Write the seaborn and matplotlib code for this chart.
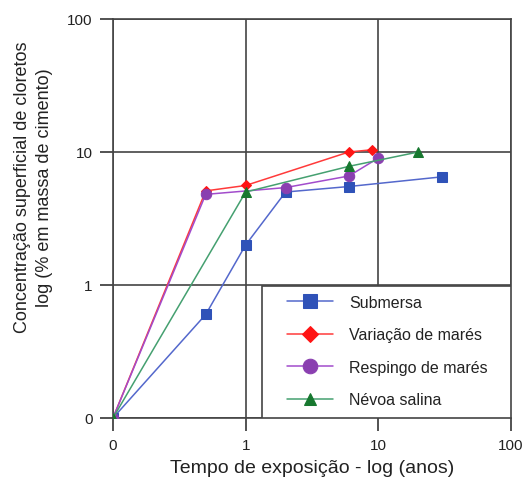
import matplotlib
matplotlib.use("Agg")
import matplotlib.pyplot as plt
import seaborn as sns
import pandas as pd
from matplotlib.patches import Rectangle
from matplotlib.ticker import NullLocator, FixedLocator, FixedFormatter

# ---- data (the axis origin labelled "0" is drawn at 0.1 on the log scales) ----
sub_x = [0.1, 0.5, 1, 2, 6, 30]
sub_y = [0.1, 0.6, 2.0, 5.0, 5.5, 6.5]

var_x = [0.1, 0.5, 1, 6, 9]
var_y = [0.1, 5.1, 5.6, 10.0, 10.4]

res_x = [0.1, 0.5, 2, 6, 10]
res_y = [0.1, 4.8, 5.4, 6.6, 9.0]

nev_x = [0.1, 1, 6, 20]
nev_y = [0.1, 5.0, 7.8, 10.0]

tick_vals = [0.1, 1, 10, 100]
tick_labels = ["0", "1", "10", "100"]

labels = ["Submersa", "Variação de marés", "Respingo de marés", "Névoa salina"]

edge = "#444444"
sns.set_style("white")
plt.rcParams['font.family'] = ['Liberation Sans', 'DejaVu Sans']
plt.rcParams.update({
    "xtick.bottom": True, "ytick.left": True,
    "xtick.top": False, "ytick.right": False,
    "xtick.major.size": 9.5, "ytick.major.size": 9.5,
    "xtick.major.width": 1.3, "ytick.major.width": 1.3,
    "xtick.color": edge, "ytick.color": edge,
    "xtick.direction": "out", "ytick.direction": "out",
})

fig = plt.figure(figsize=(5.26, 4.85), dpi=100)
ax = fig.add_axes([0.2148, 0.1361, 0.9715 - 0.2148, 0.9588 - 0.1361])

series = [
    (sub_x, sub_y, labels[0], "#5468cc", "#2f52b8", "s", 7),
    (var_x, var_y, labels[1], "#ff3a3a", "#ff1414", "D", 5.5),
    (res_x, res_y, labels[2], "#a24ccc", "#8a3fb0", "o", 7.5),
    (nev_x, nev_y, labels[3], "#45a070", "#17782f", "^", 6.5),
]

for xs, ys, lab, lc, mc, mk, ms in series:
    df = pd.DataFrame({"x": xs, "y": ys})
    sns.lineplot(data=df, x="x", y="y", ax=ax, color=lc, linewidth=1.1,
                 marker=mk, markersize=ms, markerfacecolor=mc,
                 markeredgecolor=mc, sort=False, errorbar=None, label=lab,
                 zorder=3)

ax.set_xscale("log")
ax.set_yscale("log")
ax.set_xlim(0.1, 100)
ax.set_ylim(0.1, 100)
for axis in (ax.xaxis, ax.yaxis):
    axis.set_major_locator(FixedLocator(tick_vals))
    axis.set_major_formatter(FixedFormatter(tick_labels))
    axis.set_minor_locator(NullLocator())

ax.grid(True, which="major", color=edge, linewidth=1.2)
for sp in ax.spines.values():
    sp.set_color(edge)
    sp.set_linewidth(1.2)
    sp.set_visible(True)

ax.tick_params(axis="both", which="major", direction="out", length=9.5,
               width=1.3, color=edge, labelsize=11, labelcolor="#222222",
               bottom=True, left=True, top=False, right=False)
ax.tick_params(axis="x", pad=5)
ax.tick_params(axis="y", pad=5)

ax.set_xlabel("Tempo de exposição - log (anos)", fontsize=14, color="#222222",
              labelpad=5)
ax.set_ylabel("Concentração superficial de cloretos\nlog (% em massa de cimento)",
              fontsize=13, color="#222222", linespacing=1.4)
ax.yaxis.set_label_coords(-0.15, 0.58)

# legend box (drawn above the grid, below the data)
rect = Rectangle((0.374, 0.0), 0.626, 0.331, transform=ax.transAxes,
                 facecolor="white", edgecolor=edge, linewidth=1.2, zorder=2.7)
ax.add_patch(rect)

leg = ax.legend(frameon=False, loc="center left", bbox_to_anchor=(0.437, 0.168),
                borderpad=0, borderaxespad=0, fontsize=11.5, handlelength=2.9,
                handletextpad=1.0, labelspacing=1.1, markerscale=1.4)
leg.set_zorder(5)
for t in leg.get_texts():
    t.set_color("#222222")

fig.savefig("out.png", dpi=100)
